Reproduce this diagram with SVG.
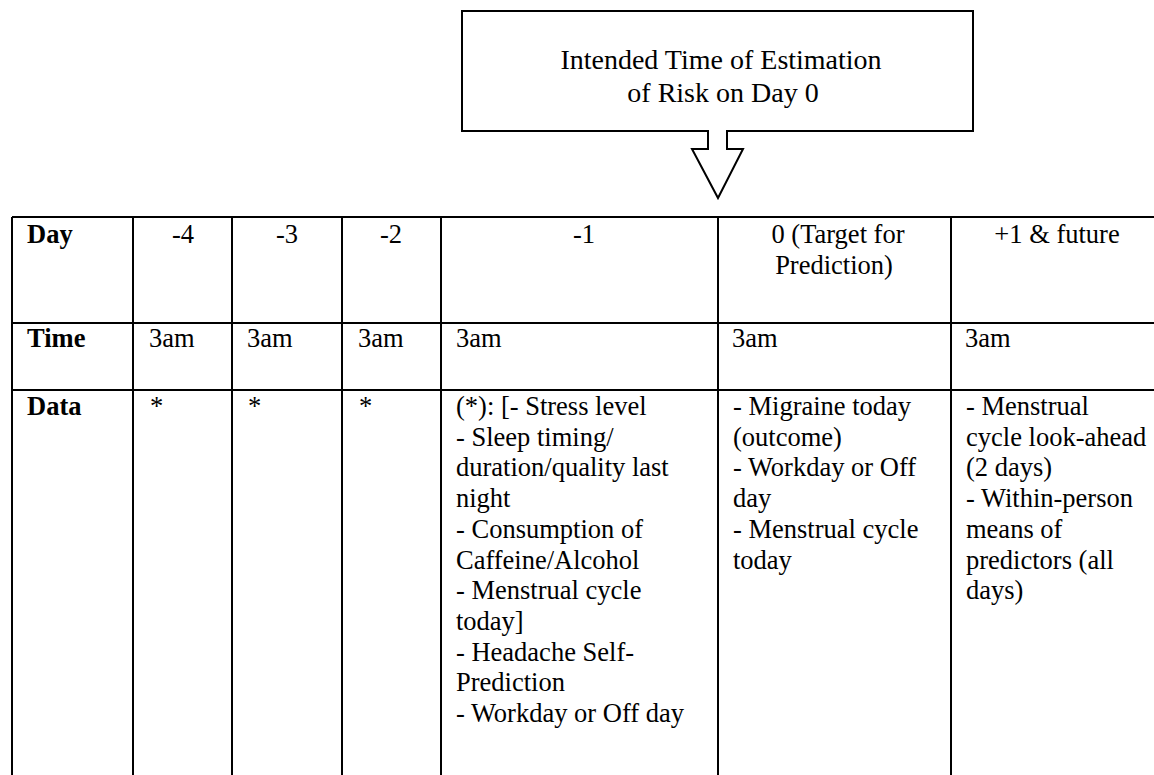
<svg xmlns="http://www.w3.org/2000/svg" width="1154" height="775" viewBox="0 0 1154 775" font-family="'Liberation Serif', 'Times New Roman', 'DejaVu Serif', serif">
<style>
text{font-family:'Liberation Serif','Times New Roman','DejaVu Serif',serif;font-size:26.5px;fill:#000}
.b{font-weight:bold}
.m{text-anchor:middle}
.t{font-size:28px}
.ln{stroke:#000;stroke-width:2;fill:none}
</style>
<rect width="1154" height="775" fill="#fff"/>
<g id="callout">
<path class="ln" d="M462,11 H973 V131 H727 V149 H743 L718,198 L692,149 H708 V131 H462 Z"/>
<text class="m t" x="721" y="69">Intended Time of Estimation</text>
<text class="m t" x="723" y="102">of Risk on Day 0</text>
</g>
<g id="grid">
<path class="ln" d="M12,217 H1154 M12,323 H1154 M12,390 H1154 M12,217 V775 M133,217 V775 M232,217 V775 M342,217 V775 M441,217 V775 M718,217 V775 M951,217 V775"/>
</g>
<g id="row-day">
<text class="b" x="27" y="243">Day</text>
<text class="m" x="183" y="243">-4</text>
<text class="m" x="287" y="243">-3</text>
<text class="m" x="391" y="243">-2</text>
<text class="m" x="584" y="243">-1</text>
<text class="m" x="838" y="243">0 (Target for</text>
<text class="m" x="834" y="274">Prediction)</text>
<text class="m" x="1057" y="243">+1 &amp; future</text>
</g>
<g id="row-time">
<text class="b" x="27" y="347">Time</text>
<text x="149" y="347">3am</text>
<text x="247" y="347">3am</text>
<text x="358" y="347">3am</text>
<text x="456" y="347">3am</text>
<text x="732" y="347">3am</text>
<text x="965" y="347">3am</text>
</g>
<g id="row-data">
<text class="b" x="27" y="415">Data</text>
<text x="150" y="415">*</text>
<text x="248" y="415">*</text>
<text x="359" y="415">*</text>
<text x="456" y="415">
<tspan x="456" dy="0">(*): [- Stress level</tspan>
<tspan x="456" dy="30.7">- Sleep timing/</tspan>
<tspan x="456" dy="30.7">duration/quality last</tspan>
<tspan x="456" dy="30.7">night</tspan>
<tspan x="456" dy="30.7">- Consumption of</tspan>
<tspan x="456" dy="30.7">Caffeine/Alcohol</tspan>
<tspan x="456" dy="30.7">- Menstrual cycle</tspan>
<tspan x="456" dy="30.7">today]</tspan>
<tspan x="456" dy="30.7">- Headache Self-</tspan>
<tspan x="456" dy="30.7">Prediction</tspan>
<tspan x="456" dy="30.7">- Workday or Off day</tspan>
</text>
<text x="733" y="415">
<tspan x="733" dy="0">- Migraine today</tspan>
<tspan x="733" dy="30.7">(outcome)</tspan>
<tspan x="733" dy="30.7">- Workday or Off</tspan>
<tspan x="733" dy="30.7">day</tspan>
<tspan x="733" dy="30.7">- Menstrual cycle</tspan>
<tspan x="733" dy="30.7">today</tspan>
</text>
<text x="966" y="415">
<tspan x="966" dy="0">- Menstrual</tspan>
<tspan x="966" dy="30.7">cycle look-ahead</tspan>
<tspan x="966" dy="30.7">(2 days)</tspan>
<tspan x="966" dy="30.7">- Within-person</tspan>
<tspan x="966" dy="30.7">means of</tspan>
<tspan x="966" dy="30.7">predictors (all</tspan>
<tspan x="966" dy="30.7">days)</tspan>
</text>
</g>
</svg>
